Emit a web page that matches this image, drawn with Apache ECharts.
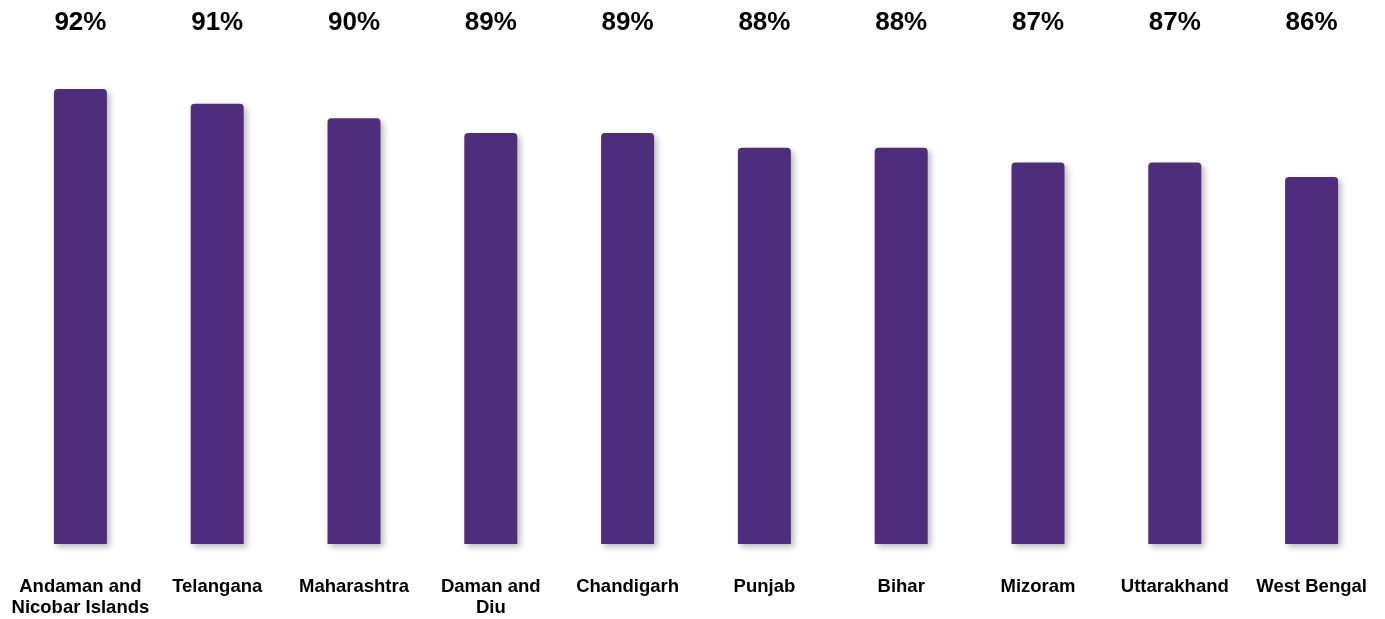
<!DOCTYPE html>
<html>
<head>
<meta charset="utf-8">
<script src="https://cdn.jsdelivr.net/npm/echarts@6/dist/echarts.min.js"></script>
<style>
  html, body { margin: 0; padding: 0; background: #ffffff; }
  #chart { width: 1385px; height: 619px; }
</style>
</head>
<body>
<div id="chart"></div>
<script>
// States / UTs and their share (%)
const categories = [
  'Andaman and\nNicobar Islands', 'Telangana', 'Maharashtra', 'Daman and\nDiu',
  'Chandigarh', 'Punjab', 'Bihar', 'Mizoram', 'Uttarakhand', 'West Bengal'
];
const values = [92, 91, 90, 89, 89, 88, 88, 87, 87, 86];
const valueLabels = values.map(v => v + '%');

const FONT = "'Liberation Sans', Arial, Helvetica, sans-serif";

const chart = echarts.init(document.getElementById('chart'), null, { renderer: 'canvas' });

chart.setOption({
  animation: false,
  backgroundColor: '#ffffff',
  grid: { left: 12, right: 5, top: 89, bottom: 75 },
  xAxis: [
    {
      type: 'category',
      data: categories,
      position: 'bottom',
      axisLine: { show: false },
      axisTick: { show: false },
      axisLabel: {
        margin: 32,
        interval: 0,
        fontFamily: FONT,
        fontWeight: 'bold',
        fontSize: 18.5,
        lineHeight: 21,
        color: '#000000'
      }
    },
    {
      type: 'category',
      data: valueLabels,
      position: 'top',
      axisLine: { show: false },
      axisTick: { show: false },
      axisLabel: {
        margin: 53,
        interval: 0,
        fontFamily: FONT,
        fontWeight: 'bold',
        fontSize: 26,
        color: '#000000'
      }
    }
  ],
  yAxis: {
    type: 'value',
    min: 61,
    max: 92,
    show: false,
    splitLine: { show: false }
  },
  series: [{
    type: 'bar',
    data: values,
    xAxisIndex: 0,
    barWidth: 53,
    itemStyle: {
      color: '#4e2d7c',
      borderRadius: [4, 4, 0, 0],
      shadowColor: 'rgba(0,0,0,0.28)',
      shadowBlur: 6,
      shadowOffsetX: 3,
      shadowOffsetY: 3
    }
  }]
});
</script>
</body>
</html>
